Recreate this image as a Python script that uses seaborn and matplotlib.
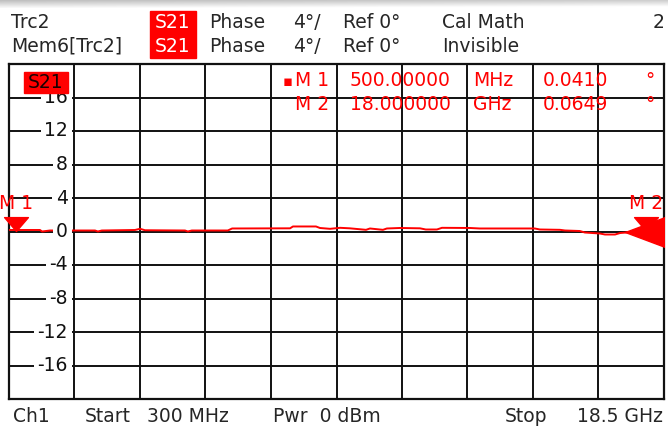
import numpy as np
import pandas as pd
import matplotlib
matplotlib.use("Agg")
import matplotlib.pyplot as plt
from matplotlib.patches import Rectangle
from matplotlib.path import Path
from matplotlib.markers import MarkerStyle
import seaborn as sns

# ---------------- data ----------------
freq_ghz = [0.30, 1.16, 1.22, 1.44, 2.69, 2.77, 2.88, 3.80, 3.94, 4.08,
            5.19, 5.27, 5.38, 6.38, 6.50, 8.11, 8.19, 8.83, 8.94, 9.22,
            9.50, 9.77, 10.22, 10.33, 10.69, 10.80, 11.16, 11.72, 11.88, 12.19,
            12.33, 13.11, 13.38, 14.91, 15.05, 15.61, 15.75, 16.16, 16.30, 16.72,
            16.86, 17.14, 17.28, 18.00, 18.50]
phase_deg = [0.18, 0.18, 0.00, 0.12, 0.12, 0.00, 0.12, 0.18, 0.32, 0.15,
             0.12, 0.00, 0.12, 0.12, 0.36, 0.38, 0.60, 0.60, 0.42, 0.32,
             0.44, 0.38, 0.20, 0.36, 0.20, 0.36, 0.42, 0.38, 0.24, 0.24,
             0.44, 0.42, 0.36, 0.36, 0.24, 0.20, 0.12, 0.06, -0.12, -0.24,
             -0.36, -0.36, -0.18, 0.06, -0.06]

y_ticks = [16, 12, 8, 4, 0, -4, -8, -12, -16]
x_start, x_stop = 0.3, 18.5
y_min, y_max = -20, 20
ref_level = 0

marker_names = ["M 1", "M 2"]
marker_freq_ghz = [0.5, 18.0]
marker_phase_deg = [0.0410, 0.0649]
marker_freq_text = ["500.00000", "18.000000"]
marker_units = ["MHz", "GHz"]

# ---------------- figure ----------------
sns.set_theme(style="white")
plt.rcParams["font.family"] = ["DejaVu Sans"]
W, H = 668, 426
FS = 13.5
fig = plt.figure(figsize=(W / 100, H / 100), dpi=100)
fig.patch.set_facecolor("white")


def fx(x):
    return x / W


def fy(y):
    return 1 - y / H


# top window gradient band
band = fig.add_axes([0, fy(8), 1, 8 / H])
grad = np.linspace(0.74, 0.98, 50).reshape(-1, 1) * np.ones((1, 200))
grad = grad + np.linspace(0, 0.06, 200)[None, :]
band.imshow(np.clip(grad, 0, 1), cmap="gray", vmin=0, vmax=1, aspect="auto")
band.axis("off")

# main plot
ax = fig.add_axes([fx(9), fy(399), (664 - 9) / W, (399 - 64) / H])
df = pd.DataFrame({"freq": freq_ghz, "phase": phase_deg})
sns.lineplot(data=df, x="freq", y="phase", color="#ff0000", lw=1.4, ax=ax,
             zorder=5, legend=False)
ax.set_xlim(x_start, x_stop)
ax.set_ylim(y_min, y_max)
ax.set_xticks(np.linspace(x_start, x_stop, 11))
ax.set_yticks(np.arange(y_min, y_max + 1, 4))
ax.tick_params(length=0, labelbottom=False, labelleft=False)
ax.grid(True, color="#111111", lw=1.4)
ax.set_axisbelow(True)
for s in ax.spines.values():
    s.set_color("#111111")
    s.set_linewidth(1.6)
ax.set_xlabel("")
ax.set_ylabel("")

# y labels inside the first column
for v in y_ticks:
    ax.text(0.09, v, f"{v}", transform=ax.get_yaxis_transform(), ha="right",
            va="center", fontsize=FS, color="#111111", zorder=6,
            bbox=dict(facecolor="white", edgecolor="none", pad=2.5))

# S21 trace label (drawn over the top of the "16" label, as on the screen)
fig.patches.append(Rectangle((fx(24), fy(93)), 44 / W, 21 / H,
                             transform=fig.transFigure, color="#ff0000", zorder=7))
fig.text(fx(46), fy(82.5), "S21", ha="center", va="center", fontsize=FS,
         color="#1a0000", zorder=8)

# markers
down_tri = MarkerStyle(Path([(-12, 14), (12, 14), (0, 0), (-12, 14)],
                            [Path.MOVETO, Path.LINETO, Path.LINETO, Path.CLOSEPOLY]))
for name, f, v in zip(marker_names, marker_freq_ghz, marker_phase_deg):
    ax.plot([f], [v], marker=down_tri, ms=20, color="#ff0000", mec="#ff0000",
            zorder=8, clip_on=False, ls="none")
    ax.annotate(name, xy=(f, v), xytext=(0, 20), textcoords="offset points",
                ha="center", va="center", color="#ff0000", fontsize=FS,
                annotation_clip=False, zorder=8)

# reference level indicator at right edge
left_tri = MarkerStyle(Path([(0, 0), (40, -15), (40, 15), (0, 0)],
                            [Path.MOVETO, Path.LINETO, Path.LINETO, Path.CLOSEPOLY]))
ax.plot([0.94], [ref_level], marker=left_tri, ms=58, color="#ff0000",
        mec="#ff0000", transform=ax.get_yaxis_transform(), zorder=8,
        clip_on=True, ls="none")

# marker table
rows_y = [81, 105]
fig.text(fx(288), fy(rows_y[0]), "▪", ha="center", va="center",
         fontsize=FS - 3, color="#ff0000")
for i, y in enumerate(rows_y):
    fig.text(fx(295), fy(y), marker_names[i], ha="left", va="center",
             fontsize=FS, color="#ff0000")
    fig.text(fx(350), fy(y), marker_freq_text[i], ha="left", va="center",
             fontsize=FS, color="#ff0000")
    fig.text(fx(473), fy(y), marker_units[i], ha="left", va="center",
             fontsize=FS, color="#ff0000")
    fig.text(fx(543), fy(y), f"{marker_phase_deg[i]:.4f}", ha="left",
             va="center", fontsize=FS, color="#ff0000")
    fig.text(fx(645), fy(y), "°", ha="left", va="center", fontsize=FS,
             color="#ff0000")

# header
fig.patches.append(Rectangle((fx(150), fy(58)), 46 / W, 47 / H,
                             transform=fig.transFigure, color="#ff0000", zorder=1))
for y, left, mid in [(22, "Trc2", "Cal Math"), (46, "Mem6[Trc2]", "Invisible")]:
    fig.text(fx(11), fy(y), left, ha="left", va="center", fontsize=FS)
    fig.text(fx(173), fy(y), "S21", ha="center", va="center", fontsize=FS,
             color="white", zorder=2)
    fig.text(fx(209), fy(y), "Phase", ha="left", va="center", fontsize=FS)
    fig.text(fx(293), fy(y), "4°/", ha="left", va="center", fontsize=FS)
    fig.text(fx(343), fy(y), "Ref 0°", ha="left", va="center", fontsize=FS)
    fig.text(fx(442), fy(y), mid, ha="left", va="center", fontsize=FS)
fig.text(fx(665), fy(22), "2", ha="right", va="center", fontsize=FS)

# footer
fy_b = 417
fig.text(fx(13), fy(fy_b), "Ch1", ha="left", va="center", fontsize=FS)
fig.text(fx(85), fy(fy_b), "Start", ha="left", va="center", fontsize=FS)
fig.text(fx(147), fy(fy_b), f"{int(x_start * 1000)} MHz", ha="left",
         va="center", fontsize=FS)
fig.text(fx(273), fy(fy_b), "Pwr  0 dBm", ha="left", va="center", fontsize=FS)
fig.text(fx(505), fy(fy_b), "Stop", ha="left", va="center", fontsize=FS)
fig.text(fx(663), fy(fy_b), f"{x_stop} GHz", ha="right", va="center",
         fontsize=FS)

fig.savefig("out.png", dpi=100)
